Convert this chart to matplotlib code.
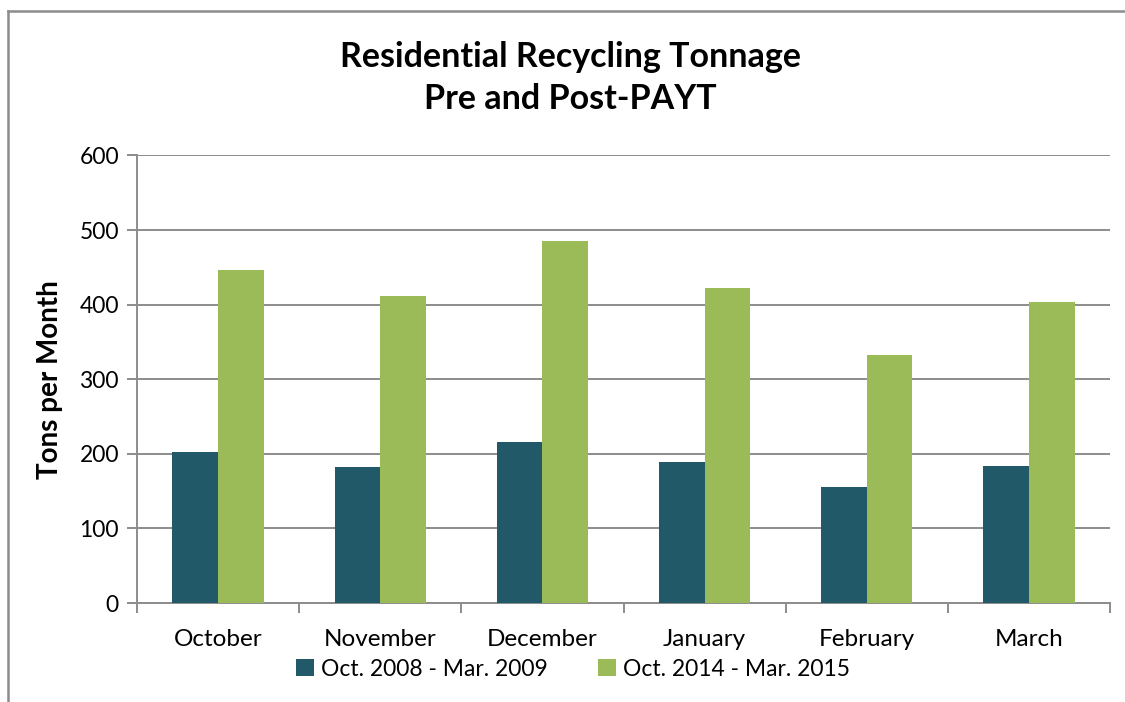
import matplotlib
matplotlib.use("Agg")
import matplotlib.pyplot as plt
import numpy as np
from matplotlib.lines import Line2D

months = ["October", "November", "December", "January", "February", "March"]
pre_payt = [202, 183, 216, 189, 155, 184]
post_payt = [446, 411, 486, 422, 333, 404]
series_names = ["Oct. 2008 - Mar. 2009", "Oct. 2014 - Mar. 2015"]
y_ticks = [0, 100, 200, 300, 400, 500, 600]

plt.rcParams['font.family'] = ['Lato', 'DejaVu Sans']
grey = "#8c8c8c"
dark = "#215968"
green = "#9bbb59"

W, H = 1125, 702
fig = plt.figure(figsize=(W / 100, H / 100), dpi=100)
ax = fig.add_axes([137 / W, 1 - 603 / H, (1110 - 137) / W, (603 - 155.5) / H])

x = np.arange(len(months))
bw = 0.282
ax.bar(x - bw / 2, pre_payt, width=bw, color=dark, label=series_names[0], zorder=3)
ax.bar(x + bw / 2, post_payt, width=bw, color=green, label=series_names[1], zorder=3)

ax.set_xlim(-0.5, len(months) - 0.5)
ax.set_ylim(0, 600)
ax.set_yticks(y_ticks)
ax.yaxis.grid(True, color=grey, linewidth=1.4, zorder=0)
ax.set_axisbelow(True)

ax.set_xticks(x)
ax.set_xticklabels(months, fontsize=17.5)
ax.set_xticks(np.arange(len(months) + 1) - 0.5, minor=True)
ax.tick_params(axis="x", which="major", length=0, pad=19)
ax.tick_params(axis="x", which="minor", length=7, width=1.4, color=grey, direction="out")
ax.tick_params(axis="y", length=7, width=1.4, color=grey, labelsize=16.5, pad=6)

for s in ["top", "right"]:
    ax.spines[s].set_visible(False)
for s in ["left", "bottom"]:
    ax.spines[s].set_color(grey)
    ax.spines[s].set_linewidth(1.4)

ax.set_ylabel("Tons per Month", fontsize=20, fontweight="bold", labelpad=12)

fig.text(570 / W, 1 - 78 / H, "Residential Recycling Tonnage\nPre and Post-PAYT",
         ha="center", va="center", fontsize=24.5, fontweight="bold", linespacing=1.38)

fig.legend(loc="center", bbox_to_anchor=(573 / W, 1 - 669 / H), ncol=2, frameon=False,
           fontsize=16.5, handlelength=0.8, handleheight=0.8, handletextpad=0.3,
           columnspacing=2.2)

# outer chart border
fig.add_artist(Line2D([8 / W, 8 / W], [0, 1 - 11 / H], color=grey, linewidth=1.8))
fig.add_artist(Line2D([8 / W, 1], [1 - 11 / H, 1 - 11 / H], color=grey, linewidth=1.8))

fig.savefig("out.png", dpi=100)
